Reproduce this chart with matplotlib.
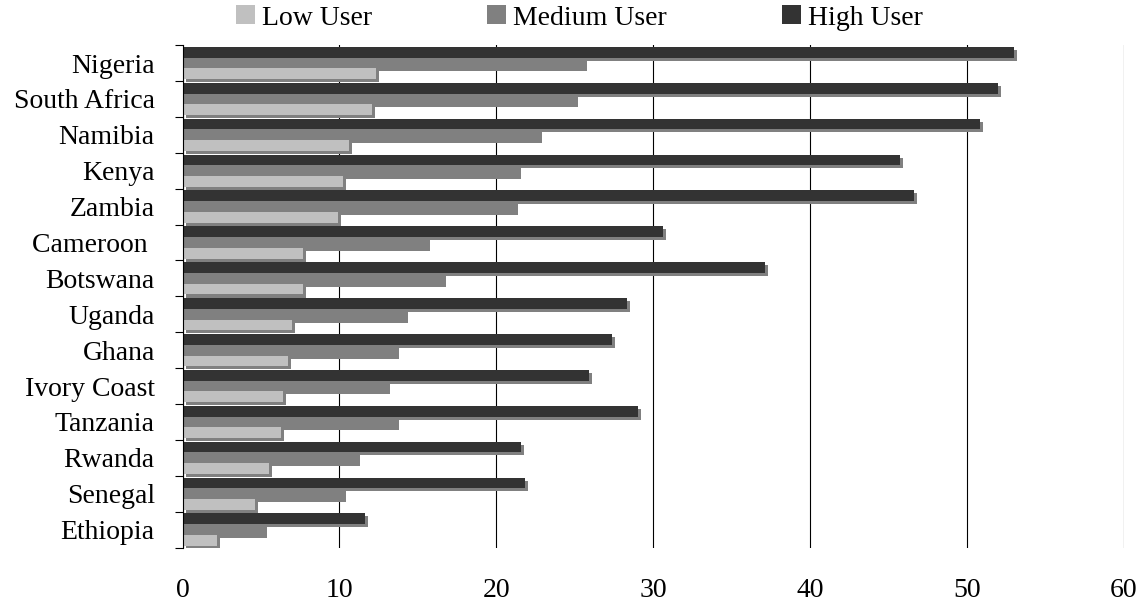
import numpy as np
import matplotlib
matplotlib.use('Agg')
import matplotlib.pyplot as plt
import matplotlib.patheffects as pe
from matplotlib.patches import Patch

plt.rcParams['font.family'] = ['Liberation Serif', 'DejaVu Serif']

countries = ['Nigeria', 'South Africa', 'Namibia', 'Kenya', 'Zambia', 'Cameroon ',
             'Botswana', 'Uganda', 'Ghana', 'Ivory Coast', 'Tanzania', 'Rwanda',
             'Senegal', 'Ethiopia']
low_user = [12.3, 12.1, 10.6, 10.2, 9.9, 7.7, 7.7, 7.0, 6.7, 6.4, 6.3, 5.5, 4.6, 2.2]
medium_user = [25.6, 25.0, 22.7, 21.4, 21.2, 15.6, 16.6, 14.2, 13.6, 13.0, 13.6, 11.1, 10.2, 5.2]
high_user = [53.0, 52.0, 50.8, 45.7, 46.6, 30.6, 37.1, 28.3, 27.4, 25.9, 29.0, 21.6, 21.8, 11.6]
series_names = ['Low User', 'Medium User', 'High User']
series_colors = ['#c0c0c0', '#808080', '#333333']

fig, ax = plt.subplots(figsize=(11.41, 6.01), dpi=100)
fig.subplots_adjust(left=0.16, right=0.985, top=0.925, bottom=0.089)

y = np.arange(len(countries))
h = 0.3
# grey drop shadow under every bar
shadow = [pe.SimplePatchShadow(offset=(2.2, -2.2), shadow_rgbFace='#808080', alpha=1.0),
          pe.Normal()]

# high drawn first so the lower bars sit over its shadow
ax.barh(y - h, high_user, height=h, color=series_colors[2], path_effects=shadow)
ax.barh(y, medium_user, height=h, color=series_colors[1], path_effects=shadow)
ax.barh(y + h, low_user, height=h, color=series_colors[0], path_effects=shadow)

ax.set_xlim(0, 60)
ax.set_ylim(len(countries) - 0.5, -0.5)
ax.set_xticks(range(0, 61, 10))
ax.xaxis.grid(True, color='black', lw=0.8)
ax.set_axisbelow(True)

for s in ['top', 'right', 'bottom']:
    ax.spines[s].set_visible(False)
ax.spines['left'].set_linewidth(0.8)

ax.set_yticks(y)
ax.set_yticklabels(countries)
ax.set_yticks(np.arange(-0.5, len(countries), 1), minor=True)
ax.tick_params(axis='x', length=0, pad=22, labelsize=20)
ax.tick_params(axis='y', which='major', length=0, pad=20, labelsize=20)
ax.tick_params(axis='y', which='minor', length=6, width=0.8, color='black')

handles = [Patch(facecolor=c, label=n) for n, c in zip(series_names, series_colors)]
fig.legend(handles=handles, loc='center', bbox_to_anchor=(0.508, 0.97), ncol=3,
           frameon=False, fontsize=20, handlelength=0.68, handleheight=0.68,
           handletextpad=0.25, columnspacing=4.15, borderaxespad=0)

fig.savefig('out.png', dpi=100)
